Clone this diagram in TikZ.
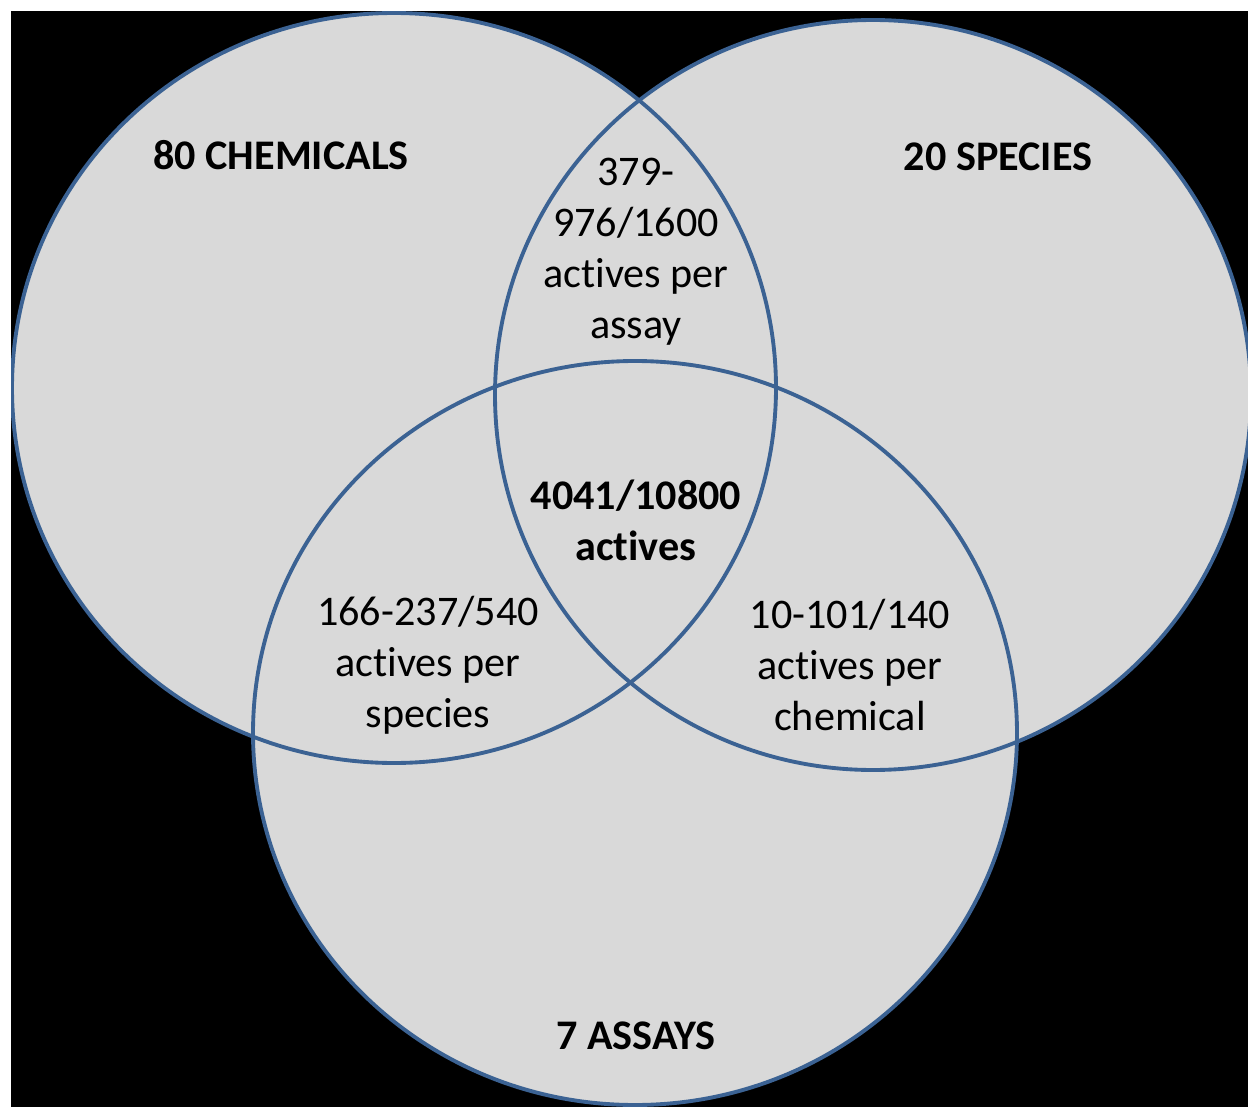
\documentclass[tikz,border=0pt]{standalone}
\usepackage{fontspec}
\setmainfont{Carlito}[Ligatures=NoCommon]
\definecolor{vennfill}{HTML}{D9D9D9}
\definecolor{vennline}{HTML}{3B6293}
\tikzset{
    setfill/.style = {fill=vennfill},
    setline/.style = {draw=vennline, line width=2.2pt},
    setname/.style = {font=\fontsize{24}{29}\selectfont\bfseries, align=center, inner sep=0pt},
    overlap/.style = {font=\fontsize{24}{29}\selectfont, align=center, inner sep=0pt}
}

\begin{document}
\begin{tikzpicture}[x=0.2mm, y=-0.2mm]
    \useasboundingbox (0,0) rectangle (1248,1107);
    \fill[white] (0,0) rectangle (1248,1107);
    \fill[black] (11,11) rectangle (1248,1107);
    \clip (11,11) rectangle (1248,1107);

    % the three sets
    \coordinate (chem) at (394,388);
    \coordinate (spec) at (873,395);
    \coordinate (assy) at (635,733);

    \fill[setfill] (chem) ellipse [x radius=382, y radius=375];
    \fill[setfill] (spec) ellipse [x radius=378, y radius=375];
    \fill[setfill] (assy) ellipse [x radius=382, y radius=372];

    \draw[setline] (chem) ellipse [x radius=382, y radius=375];
    \draw[setline] (spec) ellipse [x radius=378, y radius=375];
    \draw[setline] (assy) ellipse [x radius=382, y radius=372];

    % labels
    \node[setname] (chemicals) at (281,155) {80 CHEMICALS};
    \node[setname] (species) at (998,157) {20 SPECIES};
    \node[setname] (assays) at (636,1036) {7 ASSAYS};

    \node[overlap] (perassay) at (636,252) {379-\\976/1600\\actives per\\assay};
    \node[overlap, font=\fontsize{24}{29}\selectfont\bfseries] (all) at (636,520) {4041/10800\\actives};
    \node[overlap] (perspecies) at (428,665) {166-237/540\\actives per\\species};
    \node[overlap] (perchemical) at (850,665) {10-101/140\\actives per\\chemical};
\end{tikzpicture}
\end{document}
